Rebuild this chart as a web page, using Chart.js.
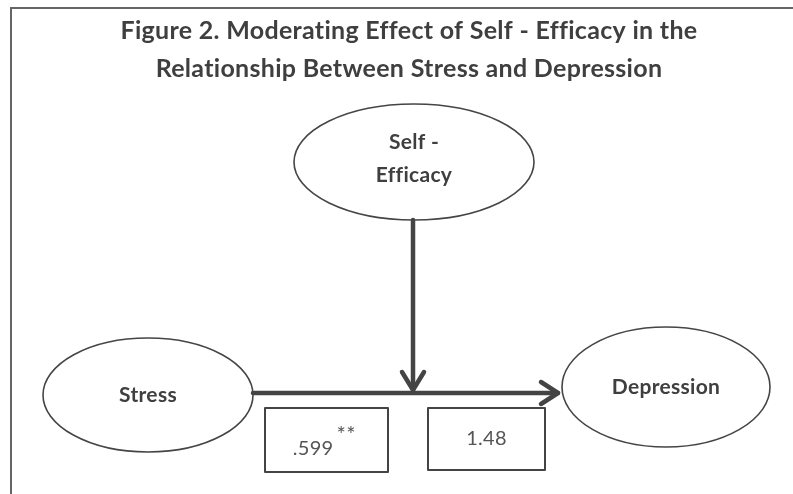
<!DOCTYPE html>
<html>
<head>
<meta charset="utf-8">
<script src="https://cdn.jsdelivr.net/npm/chart.js@4.4.1/dist/chart.umd.min.js"></script>
<style>
  html, body { margin: 0; padding: 0; background: #fff; }
  #wrap { width: 793px; height: 494px; }
</style>
</head>
<body>
<div id="wrap"><canvas id="diagram" width="793" height="494"></canvas></div>
<script>
// diagram content
const titleLines = ['Figure 2. Moderating Effect of Self - Efficacy in the',
                    'Relationship Between Stress and Depression'];
const nodeNames = ['Self -\nEfficacy', 'Stress', 'Depression'];
const pathCoefs = ['.599', '1.48'];
const pathSig = ['**', ''];

// layout in plot units (same as pixels, y grows downward)
const nodeX = [414, 148, 666];
const nodeY = [162, 395, 387];
const nodeRx = [120, 105, 104];
const nodeRy = [58, 57, 60];
const boxLeft = [265, 428];
const boxTop = [408, 408];
const boxW = [123, 117];
const boxH = [64, 62];

const INK = '#3f3f3f';

function drawArrowHead(ctx, x, y, dir) {
    // dir: 'right' or 'down'
    ctx.beginPath();
    if (dir === 'right') {
        ctx.moveTo(x - 17, y - 11); ctx.lineTo(x, y); ctx.lineTo(x - 17, y + 11);
    } else {
        ctx.moveTo(x - 11, y - 18); ctx.lineTo(x, y); ctx.lineTo(x + 11, y - 18);
    }
    ctx.stroke();
}

const diagramPlugin = {
    id: 'diagram',
    afterDraw(chart) {
        const ctx = chart.ctx;
        const xs = chart.scales.x, ys = chart.scales.y;
        const px = v => xs.getPixelForValue(v);
        const py = v => ys.getPixelForValue(v);
        ctx.save();
        ctx.letterSpacing = '0.3px'; // keeps Lato from using ti / fi ligatures

        // frame (top and left only)
        ctx.strokeStyle = '#666';
        ctx.lineWidth = 2;
        ctx.beginPath();
        ctx.moveTo(px(11), py(494)); ctx.lineTo(px(11), py(8)); ctx.lineTo(px(793), py(8));
        ctx.stroke();

        // title
        ctx.fillStyle = INK;
        ctx.textAlign = 'center';
        ctx.textBaseline = 'middle';
        ctx.font = 'bold 25px Lato';
        titleLines.forEach((t, i) => ctx.fillText(t, px(409), py(31 + i * 38)));

        // ellipses with labels
        nodeNames.forEach((name, i) => {
            ctx.beginPath();
            ctx.ellipse(px(nodeX[i]), py(nodeY[i]), nodeRx[i], nodeRy[i], 0, 0, Math.PI * 2);
            ctx.strokeStyle = '#454545';
            ctx.lineWidth = 1.6;
            ctx.stroke();
            ctx.fillStyle = INK;
            ctx.font = 'bold 21px Lato';
            const lines = name.split('\n');
            const shift = lines.length > 1 ? -3 : 0;
            lines.forEach((l, k) => {
                const off = (k - (lines.length - 1) / 2) * 33;
                ctx.fillText(l, px(nodeX[i]), py(nodeY[i] + shift + off));
            });
        });

        // main path Stress -> Depression
        ctx.strokeStyle = '#444';
        ctx.lineWidth = 4.5;
        ctx.lineCap = 'round';
        ctx.lineJoin = 'round';
        const lineY = 393;
        ctx.beginPath();
        ctx.moveTo(px(nodeX[1] + nodeRx[1]), py(lineY));
        ctx.lineTo(px(558), py(lineY));
        ctx.stroke();
        drawArrowHead(ctx, px(558), py(lineY), 'right');

        // moderator path Self-Efficacy -> path
        ctx.beginPath();
        ctx.moveTo(px(nodeX[0] - 1), py(nodeY[0] + nodeRy[0]));
        ctx.lineTo(px(nodeX[0] - 1), py(lineY - 3));
        ctx.stroke();
        drawArrowHead(ctx, px(nodeX[0] - 1), py(lineY - 3), 'down');

        // coefficient boxes
        pathCoefs.forEach((c, i) => {
            ctx.strokeStyle = '#444';
            ctx.lineWidth = 2;
            ctx.lineCap = 'butt';
            ctx.strokeRect(px(boxLeft[i]), py(boxTop[i]), boxW[i], boxH[i]);
            ctx.fillStyle = '#555';
            ctx.font = '20px Lato';
            const cx = px(boxLeft[i] + boxW[i] / 2);
            if (pathSig[i]) {
                ctx.textAlign = 'right';
                ctx.fillText(c, cx + 7, py(boxTop[i] + 41));
                ctx.textAlign = 'left';
                ctx.font = '22px Lato';
                ctx.fillText(pathSig[i], cx + 10, py(boxTop[i] + 27));
                ctx.textAlign = 'center';
            } else {
                ctx.fillText(c, cx, py(boxTop[i] + 31));
            }
        });

        ctx.restore();
    }
};

new Chart(document.getElementById('diagram'), {
    type: 'scatter',
    data: { datasets: [{ data: [], pointRadius: 0 }] },
    options: {
        responsive: false,
        animation: false,
        layout: { padding: 0 },
        plugins: { legend: { display: false }, tooltip: { enabled: false } },
        scales: {
            x: { type: 'linear', min: 0, max: 793, display: false },
            y: { type: 'linear', min: 0, max: 494, reverse: true, display: false }
        }
    },
    plugins: [diagramPlugin]
});
</script>
</body>
</html>
